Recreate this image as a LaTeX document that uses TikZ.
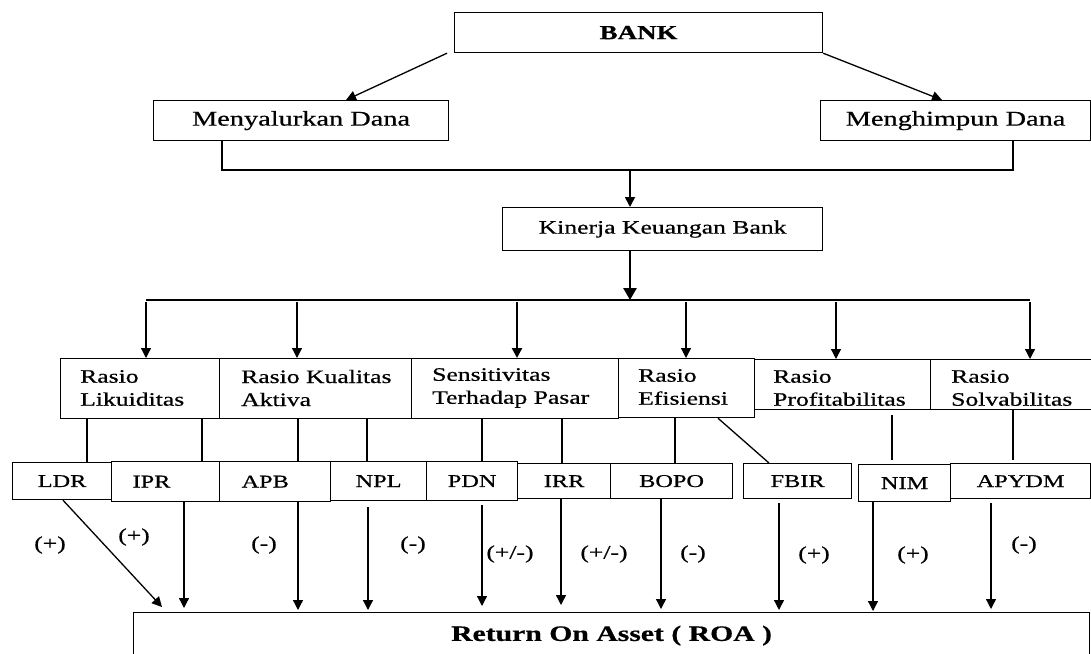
\documentclass[tikz,border=0pt]{standalone}
\usepackage{fontspec}
\setmainfont{Liberation Serif}[FakeStretch=1.35,FakeBold=0.6]
\usetikzlibrary{arrows.meta,calc}
\begin{document}
\begin{tikzpicture}[x=1pt,y=-1pt,
  box/.style={draw, line width=1.2pt, inner sep=0pt, anchor=north west, font=\fontsize{19}{22}\selectfont},
  cattext/.style={anchor=west, align=left, inner sep=0pt, font=\fontsize{19}{23}\selectfont},
  code/.style={box, font=\fontsize{18}{20}\selectfont},
  codeL/.style={code, align=left, inner xsep=21pt},
  arr/.style={-{Triangle[width=10pt,length=10pt]}, line width=1.3pt},
  thick arr/.style={-{Triangle[width=13pt,length=12pt]}, line width=2.8pt},
  ln/.style={line width=1.3pt},
  lab/.style={font=\fontsize{19}{21}\selectfont, inner sep=0pt}]
\fill[white] (0,0) rectangle (1091,653);
\clip (0,0) rectangle (1091,653);

% top
\node[box, minimum width=368pt, minimum height=40pt, font=\bfseries\fontsize{20}{22}\selectfont] (bank) at (454,12) {BANK};
\node[box, minimum width=295pt, minimum height=40pt, font=\fontsize{21}{23}\selectfont] (salur) at (153,100) {Menyalurkan Dana};
\node[box, minimum width=270pt, minimum height=40pt, font=\fontsize{21}{23}\selectfont] (himpun) at (820,100) {Menghimpun Dana};
\node[box, minimum width=320pt, minimum height=43pt] (kinerja) at (502,207) {Kinerja Keuangan Bank};

\draw[arr] (bank.south west -| 447,0) -- (salur.north -| 346,0);
\draw[arr] (bank.south east) -- (himpun.north -| 942,0);

\coordinate (brL) at (222,170);
\coordinate (brR) at (1013,170);
\coordinate (brM) at (630,170);
\draw[ln] (salur.south -| brL) -- (brL) -- (brR) -- (himpun.south -| brR);
\draw[arr, line width=1.8pt] (brM) -- (kinerja.north -| brM);

\coordinate (hL) at (146,300);
\coordinate (hR) at (1030,300);
\coordinate (hM) at (630,300);
\draw[thick arr] (kinerja.south -| hM) -- (hM);
\draw[ln] (hL) -- (hR);

% category boxes
\node[box, minimum width=159pt, minimum height=60pt] (likuid) at (60,358) {};
\node[box, minimum width=192pt, minimum height=60pt] (kualitas) at (219,358) {};
\node[box, minimum width=207pt, minimum height=60pt] (sensi) at (411,358) {};
\node[box, minimum width=136pt, minimum height=59pt] (efis) at (618,358) {};
\node[box, minimum width=176pt, minimum height=50pt] (profit) at (754,359) {};
\node[box, minimum width=161pt, minimum height=50pt] (solv) at (930,359) {};

\node[cattext] (likuidT) at (80,388) {Rasio\\Likuiditas};
\node[cattext] (kualitasT) at (241,388) {Rasio Kualitas\\Aktiva};
\node[cattext] (sensiT) at (432,388) {Sensitivitas\\Terhadap Pasar};
\node[cattext] (efisT) at (638,387) {Rasio\\Efisiensi};
\node[cattext] (profitT) at (773,388) {Rasio\\Profitabilitas};
\node[cattext] (solvT) at (951,388) {Rasio\\Solvabilitas};

\draw[arr] (146,302) -- (likuid.north -| 146,0);
\draw[arr] (297,302) -- (kualitas.north -| 297,0);
\draw[arr, line width=2.4pt] (517,302) -- (sensi.north -| 517,0);
\draw[arr] (686,302) -- (efis.north -| 686,0);
\draw[arr] (836,302) -- (profit.north -| 836,0);
\draw[arr] (1030,302) -- (solv.north -| 1030,0);

% code boxes
\node[code, minimum width=99pt, minimum height=37pt] (ldr) at (12,462) {LDR};
\node[codeL, minimum height=40pt, text width=66pt] (ipr) at (111,461) {IPR};
\node[codeL, minimum height=40pt, text width=67pt, inner xsep=22pt] (apb) at (219,461) {APB};
\node[code, minimum width=96pt, minimum height=39pt] (npl) at (330,461) {NPL};
\node[code, minimum width=91pt, minimum height=39pt] (pdn) at (426,461) {PDN};
\node[code, minimum width=93pt, minimum height=35pt] (irr) at (517,463) {IRR};
\node[code, minimum width=122pt, minimum height=35pt] (bopo) at (610,463) {BOPO};
\node[code, minimum width=108pt, minimum height=35pt] (fbir) at (743,463) {FBIR};
\node[code, minimum width=92pt, minimum height=37pt] (nim) at (858,464) {NIM};
\node[code, minimum width=140pt, minimum height=35pt] (apydm) at (950,463) {APYDM};

\draw[ln] (likuid.south -| 87,0) -- (ldr.north -| 87,0);
\draw[ln] (likuid.south -| 202,0) -- (ipr.north -| 202,0);
\draw[ln] (kualitas.south -| 298,0) -- (apb.north -| 298,0);
\draw[ln] (kualitas.south -| 367,0) -- (npl.north -| 367,0);
\draw[ln] (sensi.south -| 482,0) -- (pdn.north -| 482,0);
\draw[ln] (sensi.south -| 562,0) -- (irr.north -| 562,0);
\draw[ln] (efis.south -| 675,0) -- (bopo.north -| 675,0);
\draw[ln] (efis.south -| 718,0) -- (fbir.north -| 769,0);
\draw[ln] (892,415) -- (892,460);
\draw[ln] (solv.south -| 1013,0) -- (1013,460);

% ROA
\node[box, minimum width=956pt, minimum height=46pt, font=\bfseries\fontsize{22}{24}\selectfont] (roa) at (133,612) {Return On Asset ( ROA )};

\draw[arr] (ldr.south -| 63,0) -- ($(roa.north west)+(29,-5)$);
\draw[arr, shorten >=4pt] (ipr.south -| 184,0) -- (roa.north -| 184,0);
\draw[arr, shorten >=2pt] (apb.south -| 298,0) -- (roa.north -| 298,0);
\draw[arr, shorten >=2pt] (368,507) -- (roa.north -| 368,0);
\draw[arr, shorten >=6pt] (482,505) -- (roa.north -| 482,0);
\draw[arr, shorten >=7pt] (irr.south -| 561,0) -- (roa.north -| 561,0);
\draw[arr, shorten >=3pt] (bopo.south -| 661,0) -- (roa.north -| 661,0);
\draw[arr, shorten >=2pt] (779,503) -- (roa.north -| 779,0);
\draw[arr, shorten >=1pt] (nim.south -| 873,0) -- (roa.north -| 873,0);
\draw[arr, shorten >=3pt] (991,503) -- (roa.north -| 991,0);

% labels
\node[lab] (l1) at (50,545) {(+)};
\node[lab] (l2) at (134,537) {(+)};
\node[lab] (l3) at (264,545) {(-)};
\node[lab] (l4) at (413,545) {(-)};
\node[lab] (l5) at (510,554) {(+/-)};
\node[lab] (l6) at (604,554) {(+/-)};
\node[lab] (l7) at (693,554) {(-)};
\node[lab] (l8) at (814,555) {(+)};
\node[lab] (l9) at (913,555) {(+)};
\node[lab] (l10) at (1024,545) {(-)};
\end{tikzpicture}
\end{document}
